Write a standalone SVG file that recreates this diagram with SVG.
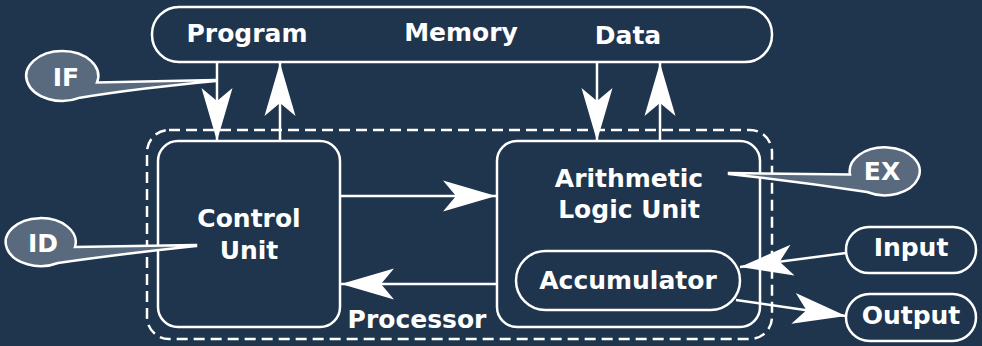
<svg xmlns="http://www.w3.org/2000/svg" width="982" height="346" viewBox="0 0 982 346">
<style>
.box{fill:none;stroke:#ffffff;stroke-width:2.5}
.dash{fill:none;stroke:#ffffff;stroke-width:2.5;stroke-dasharray:11 6}
.lbl{font-family:"DejaVu Sans","Verdana",sans-serif;font-weight:bold;font-size:25px;fill:#ffffff;text-anchor:middle}
.call{fill:#5a6a7e;stroke:#ffffff;stroke-width:2.5;stroke-linejoin:miter}
.con{fill:none;stroke:#ffffff;stroke-width:2.5}
</style>
<defs>
<marker id="ah" markerUnits="userSpaceOnUse" viewBox="-54 -17 56 34" refX="0" refY="0" markerWidth="56" markerHeight="34" orient="auto">
<path d="M0,0 L-53,-15.5 L-40,0 L-53,15.5 Z" fill="#ffffff"/>
</marker>
</defs>
<rect width="982" height="346" fill="#1f354d"/>

<g id="memory">
<rect class="box" x="152" y="7" width="620" height="55" rx="27"/>
<text class="lbl" x="247" y="42">Program</text>
<text class="lbl" x="461" y="41">Memory</text>
<text class="lbl" x="628" y="44">Data</text>
</g>

<g id="processor">
<rect class="dash" x="147" y="130" width="625" height="209" rx="22"/>
<text class="lbl" x="417" y="328">Processor</text>
</g>

<g id="control-unit">
<rect class="box" x="158" y="141" width="182" height="186" rx="20"/>
<text class="lbl" x="249" y="227">Control</text>
<text class="lbl" x="249" y="259">Unit</text>
</g>

<g id="alu">
<rect class="box" x="497" y="141" width="263" height="186" rx="20"/>
<text class="lbl" x="629" y="187">Arithmetic</text>
<text class="lbl" x="629" y="218">Logic Unit</text>
</g>

<g id="accumulator">
<rect class="box" x="516" y="251" width="224" height="59" rx="29.5"/>
<text class="lbl" x="628" y="289">Accumulator</text>
</g>

<g id="input">
<rect class="box" x="846" y="227" width="130" height="46" rx="23"/>
<text class="lbl" x="911" y="256">Input</text>
</g>

<g id="output">
<rect class="box" x="846" y="294" width="130" height="47" rx="23.5"/>
<text class="lbl" x="911" y="324">Output</text>
</g>

<g id="connectors">
<line class="con" x1="217" y1="62" x2="217" y2="141" marker-end="url(#ah)"/>
<line class="con" x1="280" y1="141" x2="280" y2="63" marker-end="url(#ah)"/>
<line class="con" x1="597" y1="62" x2="597" y2="141" marker-end="url(#ah)"/>
<line class="con" x1="660" y1="141" x2="660" y2="63" marker-end="url(#ah)"/>
<line class="con" x1="340" y1="196" x2="496" y2="196" marker-end="url(#ah)"/>
<line class="con" x1="497" y1="284" x2="341" y2="284" marker-end="url(#ah)"/>
<line class="con" x1="846" y1="253" x2="740" y2="267" marker-end="url(#ah)"/>
<line class="con" x1="736" y1="300" x2="846" y2="316" marker-end="url(#ah)"/>
</g>

<g id="callout-if">
<path class="call" d="M216,80 L97,82.5 A36,25 0 1 0 80,97.7 Q140,88 216,81 Z"/>
<text class="lbl" x="66" y="86">IF</text>
</g>

<g id="callout-id">
<path class="call" d="M196,245 L75,247 A35,24 0 1 0 58,263 Q120,254 196,246 Z"/>
<text class="lbl" x="43" y="252">ID</text>
</g>

<g id="callout-ex">
<path class="call" d="M729,173 L850,174.5 A35,24 0 1 1 867,192 Q800,182 729,174 Z"/>
<text class="lbl" x="882" y="180">EX</text>
</g>
</svg>
